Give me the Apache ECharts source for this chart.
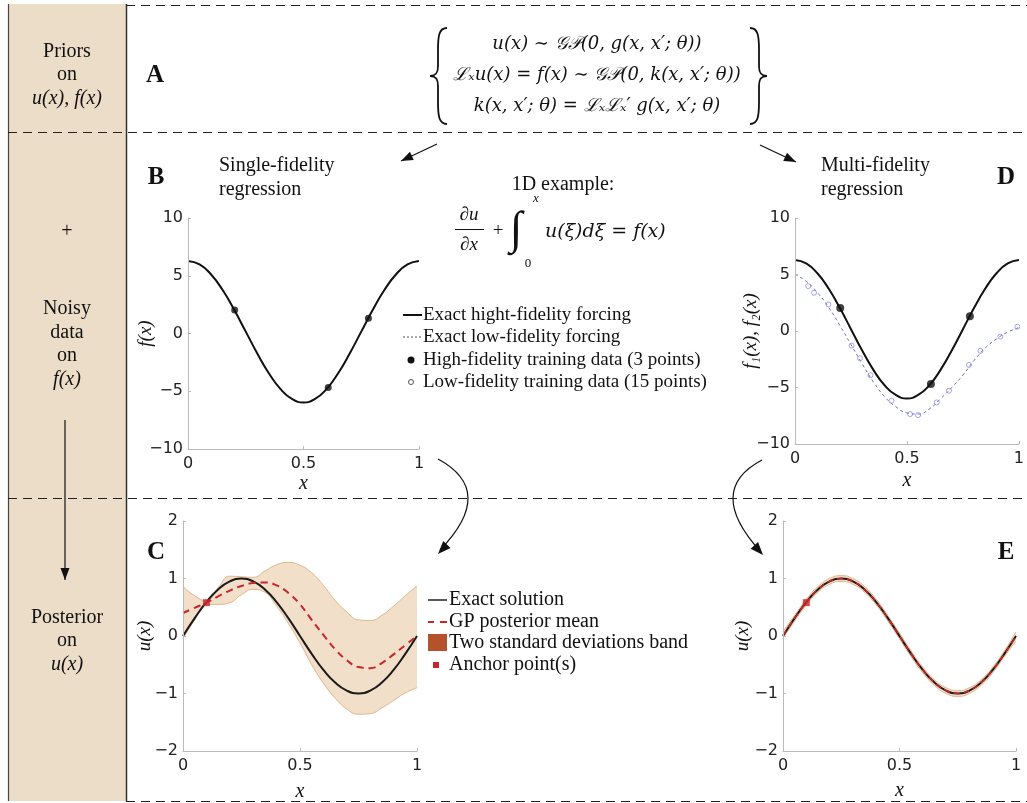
<!DOCTYPE html>
<html>
<head>
<meta charset="utf-8">
<script src="https://cdn.jsdelivr.net/npm/echarts@6/dist/echarts.min.js"></script>
<style>
  html, body { margin: 0; padding: 0; background: #fff; }
  #chart { width: 1027px; height: 803px; }
</style>
</head>
<body>
<div id="chart"></div>
<script>
// grid of x positions shared by every curve
const xs = [0, 0.05, 0.1, 0.15, 0.2, 0.25, 0.3, 0.35, 0.4, 0.45, 0.5, 0.55, 0.6, 0.65, 0.7, 0.75, 0.8, 0.85, 0.9, 0.95, 1];

// panel B / D : forcing
const fHigh = [6.28, 5.98, 5.11, 3.76, 2.05, 0.16, -1.73, -3.44, -4.80, -5.66, -5.97, -5.66, -4.80, -3.44, -1.73, 0.16, 2.05, 3.76, 5.11, 5.98, 6.28];
const fLow = [5.0, 4.4, 3.4, 2.1, 0.5, -1.2, -2.9, -4.5, -5.8, -6.7, -7.25, -7.35, -6.9, -6.0, -5.0, -3.9, -2.6, -1.5, -0.7, -0.1, 0.3];
const hiX = [0.202, 0.607, 0.781];
const hiY = [2.03, -4.68, 1.31];
const loX = [0.059, 0.085, 0.149, 0.253, 0.290, 0.337, 0.431, 0.514, 0.550, 0.633, 0.688, 0.777, 0.828, 0.917, 0.993];
const loY = [3.97, 3.38, 2.35, -1.29, -2.41, -3.91, -6.18, -7.35, -7.44, -6.32, -5.29, -3.0, -1.76, -0.5, 0.38];

// panel C / E : solution
const uExact = [0, 0.31, 0.59, 0.81, 0.95, 1, 0.95, 0.81, 0.59, 0.31, 0, -0.31, -0.59, -0.81, -0.95, -1, -0.95, -0.81, -0.59, -0.31, 0];
const meanC = [0.40, 0.49, 0.58, 0.69, 0.79, 0.87, 0.92, 0.93, 0.88, 0.75, 0.55, 0.28, 0.02, -0.23, -0.42, -0.54, -0.56, -0.47, -0.32, -0.16, 0];
const upperC = [0.86, 0.70, 0.61, 0.84, 1.04, 1.03, 1.02, 1.13, 1.24, 1.28, 1.23, 1.10, 0.88, 0.62, 0.42, 0.28, 0.27, 0.36, 0.52, 0.70, 0.87];
const lowerC = [-0.05, 0.28, 0.55, 0.55, 0.58, 0.72, 0.81, 0.76, 0.52, 0.22, -0.12, -0.50, -0.82, -1.08, -1.27, -1.36, -1.35, -1.25, -1.12, -0.99, -0.90];
const meanE = [0.01, 0.31, 0.59, 0.81, 0.95, 1, 0.95, 0.81, 0.59, 0.31, 0, -0.31, -0.59, -0.81, -0.95, -1, -0.95, -0.81, -0.59, -0.31, -0.01];
const upperE = [0.08, 0.36, 0.64, 0.86, 1.0, 1.05, 1.0, 0.86, 0.64, 0.36, 0.05, -0.26, -0.54, -0.76, -0.9, -0.95, -0.9, -0.76, -0.54, -0.26, 0.07];
const lowerE = [-0.04, 0.26, 0.54, 0.76, 0.9, 0.95, 0.9, 0.76, 0.54, 0.26, -0.05, -0.36, -0.64, -0.86, -1.0, -1.05, -1.0, -0.86, -0.64, -0.36, -0.09];
const anchorX = [0.1];
const anchorY = [0.58];

const xTicks = [0, 0.5, 1];

const SERIF = '"Liberation Serif", "DejaVu Serif", serif';
const MATH = '"DejaVu Serif", "Liberation Serif", serif';
const SANS = '"DejaVu Sans", sans-serif';
const BAND_FILL = '#f1dfc9';
const BAND_EDGE = '#e3b48a';
const RED = '#c8262c';

const pairs = (a, b) => a.map((v, i) => [v, b[i]]);

function xAxis(grid, gap) {
  return {
    type: 'value', gridIndex: grid, min: 0, max: 1, interval: 0.5, z: 10,
    name: 'x', nameLocation: 'middle', nameGap: gap, nameMoveOverlap: false,
    nameTextStyle: { fontFamily: SERIF, fontStyle: 'italic', fontSize: 20, color: '#111' },
    axisLine: { onZero: false, lineStyle: { color: '#bbb' } },
    axisTick: { inside: true, length: 3, lineStyle: { color: '#bbb' } },
    axisLabel: { fontFamily: SANS, fontSize: 16, color: '#222', margin: 7,
      formatter: v => xTicks.includes(v) ? String(v) : '' },
    splitLine: { show: false }
  };
}
function yAxis(grid, min, max, interval, name, gap) {
  return {
    type: 'value', gridIndex: grid, min, max, interval, z: 10,
    name, nameLocation: 'middle', nameGap: gap, nameMoveOverlap: false,
    nameTextStyle: { fontFamily: SERIF, fontStyle: 'italic', fontSize: 19, color: '#111' },
    axisLine: { show: true, onZero: false, lineStyle: { color: '#bbb' } },
    axisTick: { show: true, inside: true, length: 3, lineStyle: { color: '#bbb' } },
    axisLabel: { fontFamily: SANS, fontSize: 16, color: '#222', margin: 5,
      formatter: v => String(v).replace('-', '\u2212') },
    splitLine: { show: false }
  };
}

function lineS(ax, data, color, width, type) {
  return { type: 'line', xAxisIndex: ax, yAxisIndex: ax, data, smooth: true, symbol: 'none',
    lineStyle: { color, width, type: type || 'solid' }, z: 5, silent: true };
}
// band: upper area filled down to the axis start, then masked below the lower edge
function bandS(ax, lower, upper) {
  return [
    { type: 'line', xAxisIndex: ax, yAxisIndex: ax, smooth: true, symbol: 'none', silent: true,
      data: pairs(xs, upper), lineStyle: { color: BAND_EDGE, width: 1 },
      areaStyle: { color: BAND_FILL, opacity: 1, origin: 'start' }, z: 2 },
    { type: 'line', xAxisIndex: ax, yAxisIndex: ax, smooth: true, symbol: 'none', silent: true,
      data: pairs(xs, lower), lineStyle: { color: BAND_EDGE, width: 1 },
      areaStyle: { color: '#fff', opacity: 1, origin: 'start' }, z: 3 }
  ];
}

// decorations
function txt(text, x, y, size, opts) {
  opts = opts || {};
  return { type: 'text', z: 100, style: {
    text, x, y, fill: opts.fill || '#111',
    font: (opts.italic ? 'italic ' : '') + (opts.bold ? 'bold ' : '') + size + 'px ' + (opts.family || SERIF),
    align: opts.align || 'center', verticalAlign: 'middle',
    textAlign: opts.align || 'center', textVerticalAlign: 'middle'
  } };
}
function seg(x1, y1, x2, y2, opts) {
  opts = opts || {};
  return { type: 'line', z: 100, shape: { x1, y1, x2, y2 },
    style: { stroke: opts.color || '#222', lineWidth: opts.width || 1, lineDash: opts.dash || null } };
}
function cubic(x1, y1, c1x, c1y, c2x, c2y, x2, y2) {
  return { type: 'bezierCurve', z: 100, shape: { x1, y1, x2, y2, cpx1: c1x, cpy1: c1y, cpx2: c2x, cpy2: c2y },
    style: { stroke: '#111', lineWidth: 1.8, fill: null } };
}
// curly brace: free ends at xe, stem at xs0, middle tip at xt
function brace(xe, xs0, xt) {
  return [
    cubic(xe, 28, xs0 + (xe - xs0) * 0.1, 28, xs0, 36, xs0, 50),
    seg(xs0, 50, xs0, 66, { color: '#111', width: 1.8 }),
    cubic(xs0, 66, xs0, 73, xs0 + (xt - xs0) * 0.25, 76, xt, 76),
    cubic(xt, 76, xs0 + (xt - xs0) * 0.25, 76, xs0, 79, xs0, 86),
    seg(xs0, 86, xs0, 102, { color: '#111', width: 1.8 }),
    cubic(xs0, 102, xs0, 116, xs0 + (xe - xs0) * 0.1, 124, xe, 124)
  ];
}
function head(tx, ty, fx, fy, len, half) {
  len = len || 12; half = half || 4.5;
  const dx = tx - fx, dy = ty - fy, L = Math.hypot(dx, dy);
  const ux = dx / L, uy = dy / L;
  const bx = tx - ux * len, by = ty - uy * len;
  return { type: 'polygon', z: 100, shape: { points: [[tx, ty], [bx - uy * half, by + ux * half], [bx + uy * half, by - ux * half]] },
    style: { fill: '#111' } };
}
function arrow(x1, y1, x2, y2) {
  return [seg(x1, y1, x2, y2, { width: 1.2, color: '#111' }), head(x2, y2, x1, y1)];
}
function curved(x1, y1, cx, cy, x2, y2, tx, ty) {
  return [
    { type: 'bezierCurve', z: 100, shape: { x1, y1, x2, y2, cpx1: cx, cpy1: cy },
      style: { stroke: '#111', lineWidth: 1.2, fill: null } },
    head(tx, ty, cx, cy, 13, 5)
  ];
}

const dash = [9, 6];
const graphics = [
  // sidebar
  { type: 'rect', z: 0, shape: { x: 8, y: 4, width: 118, height: 797 }, style: { fill: '#ecddc8' } },
  seg(8.5, 4, 8.5, 801, { color: '#444', width: 1.2 }),
  seg(126.5, 4, 126.5, 801, { color: '#333', width: 1.5 }),
  seg(126, 5.5, 1027, 5.5, { dash, color: '#222' }),
  seg(8, 132.5, 1027, 132.5, { dash, color: '#222' }),
  seg(8, 498.5, 1027, 498.5, { dash, color: '#222' }),
  seg(126, 801.5, 1027, 801.5, { dash, color: '#222' }),
  txt('Priors', 67, 52, 20), txt('on', 67, 75, 20), txt('u(x), f(x)', 67, 99, 20, { italic: true }),
  txt('+', 67, 232, 20),
  txt('Noisy', 67, 309, 20), txt('data', 67, 333, 20), txt('on', 67, 356, 20), txt('f(x)', 67, 380, 20, { italic: true }),
  ...arrow(65, 420, 65, 580),
  txt('Posterior', 67, 618, 20), txt('on', 67, 641, 20), txt('u(x)', 67, 665, 20, { italic: true }),

  // panel letters
  txt('A', 155, 76, 25, { bold: true }),
  txt('B', 156, 178, 25, { bold: true }),
  txt('C', 156, 553, 25, { bold: true }),
  txt('D', 1006, 178, 25, { bold: true }),
  txt('E', 1006, 553, 25, { bold: true }),

  // priors block
  ...brace(447, 438, 430),
  ...brace(750, 759, 767),
  txt('u(x) \u223C \uD835\uDCA2\uD835\uDCAB(0, g(x, x\u2032; \u03B8))', 597, 44, 18, { italic: true, family: MATH }),
  txt('\u2112\u2093u(x) = f(x) \u223C \uD835\uDCA2\uD835\uDCAB(0, k(x, x\u2032; \u03B8))', 597, 75, 18, { italic: true, family: MATH }),
  txt('k(x, x\u2032; \u03B8) = \u2112\u2093\u2112\u2093\u2032 g(x, x\u2032; \u03B8)', 597, 106, 18, { italic: true, family: MATH }),

  // arrows
  ...arrow(437, 144, 401, 161),
  ...arrow(760, 145, 796, 162),
  ...curved(438, 459, 497, 491, 440, 550, 438, 554),
  ...curved(762, 460, 705, 490, 760, 551, 763, 555),

  // titles
  txt('Single-fidelity', 219, 166, 20, { align: 'left' }),
  txt('regression', 219, 190, 20, { align: 'left' }),
  txt('Multi-fidelity', 821, 166, 20, { align: 'left' }),
  txt('regression', 821, 190, 20, { align: 'left' }),
  txt('1D example:', 563, 185, 20),
  txt('\u2202u', 469, 215, 19, { italic: true }),
  seg(455, 229.5, 484, 229.5, { color: '#111', width: 1 }),
  txt('\u2202x', 469, 245, 19, { italic: true }),
  txt('+', 498, 231, 19),
  txt('\u222B', 516, 231, 46, { italic: true }),
  txt('x', 536, 199, 13, { italic: true }),
  txt('0', 528, 264, 13),
  txt('u(\u03BE)d\u03BE = f(x)', 545, 232, 19, { italic: true, align: 'left', family: MATH }),

  // legend B/D
  seg(403, 315, 422, 315, { color: '#111', width: 2 }),
  txt('Exact hight-fidelity forcing', 423, 315, 19, { align: 'left' }),
  seg(403, 337, 422, 337, { color: '#555', width: 1, dash: [2, 2] }),
  txt('Exact low-fidelity forcing', 423, 337, 19, { align: 'left' }),
  { type: 'circle', z: 100, shape: { cx: 411, cy: 360, r: 3.5 }, style: { fill: '#111' } },
  txt('High-fidelity training data (3 points)', 423, 360, 19, { align: 'left' }),
  { type: 'circle', z: 100, shape: { cx: 411, cy: 382, r: 2.5 }, style: { fill: null, stroke: '#555', lineWidth: 1 } },
  txt('Low-fidelity training data (15 points)', 423, 382, 19, { align: 'left' }),

  // legend C
  seg(428, 600, 447, 600, { color: '#222', width: 1.5 }),
  txt('Exact solution', 449, 600, 20, { align: 'left' }),
  seg(428, 622, 434, 622, { color: RED, width: 2 }),
  seg(440, 622, 447, 622, { color: RED, width: 2 }),
  txt('GP posterior mean', 449, 622, 20, { align: 'left' }),
  { type: 'rect', z: 100, shape: { x: 428, y: 634, width: 19, height: 17 }, style: { fill: '#b4522b' } },
  txt('Two standard deviations band', 449, 643, 20, { align: 'left' }),
  { type: 'rect', z: 100, shape: { x: 433, y: 662, width: 6, height: 6 }, style: { fill: RED } },
  txt('Anchor point(s)', 449, 665, 20, { align: 'left' })
];

const chart = echarts.init(document.getElementById('chart'));
chart.setOption({
  animation: false,
  backgroundColor: '#fff',
  grid: [
    { left: 188, top: 218, width: 231, height: 231 },
    { left: 795, top: 218, width: 224, height: 226 },
    { left: 183, top: 521, width: 234, height: 231 },
    { left: 783, top: 521, width: 233, height: 230 }
  ],
  xAxis: [xAxis(0, 25), xAxis(1, 27), xAxis(2, 31), xAxis(3, 30)],
  yAxis: [
    yAxis(0, -10, 10, 5, 'f(x)', 33),
    yAxis(1, -10, 10, 5, 'f\u2081(x), f\u2082(x)', 35),
    yAxis(2, -2, 2, 1, 'u(x)', 29),
    yAxis(3, -2, 2, 1, 'u(x)', 31)
  ],
  series: [
    // B
    lineS(0, pairs(xs, fHigh), '#111', 2),
    { type: 'scatter', xAxisIndex: 0, yAxisIndex: 0, data: pairs(hiX, hiY), symbolSize: 7,
      itemStyle: { color: '#111' }, z: 6 },
    // D
    lineS(1, pairs(xs, fHigh), '#111', 2),
    lineS(1, pairs(xs, fLow), '#6a6ad6', 1, [3, 3]),
    { type: 'scatter', xAxisIndex: 1, yAxisIndex: 1, data: pairs(loX, loY), symbolSize: 5,
      itemStyle: { color: 'rgba(0,0,0,0)', borderColor: '#8f8fe0', borderWidth: 1 }, z: 6 },
    { type: 'scatter', xAxisIndex: 1, yAxisIndex: 1, data: pairs(hiX, hiY), symbolSize: 8,
      itemStyle: { color: '#111' }, z: 6 },
    // C
    ...bandS(2, lowerC, upperC),
    lineS(2, pairs(xs, uExact), '#1a1a1a', 2),
    lineS(2, pairs(xs, meanC), RED, 2, [7, 5]),
    { type: 'scatter', xAxisIndex: 2, yAxisIndex: 2, data: pairs(anchorX, anchorY), symbol: 'rect', symbolSize: 7,
      itemStyle: { color: RED }, z: 7 },
    // E
    ...bandS(3, lowerE, upperE),
    lineS(3, pairs(xs, uExact), '#1a1a1a', 2),
    lineS(3, pairs(xs, meanE), RED, 1.5, [6, 4]),
    { type: 'scatter', xAxisIndex: 3, yAxisIndex: 3, data: pairs(anchorX, anchorY), symbol: 'rect', symbolSize: 7,
      itemStyle: { color: RED }, z: 7 }
  ],
  graphic: graphics
});
</script>
</body>
</html>
